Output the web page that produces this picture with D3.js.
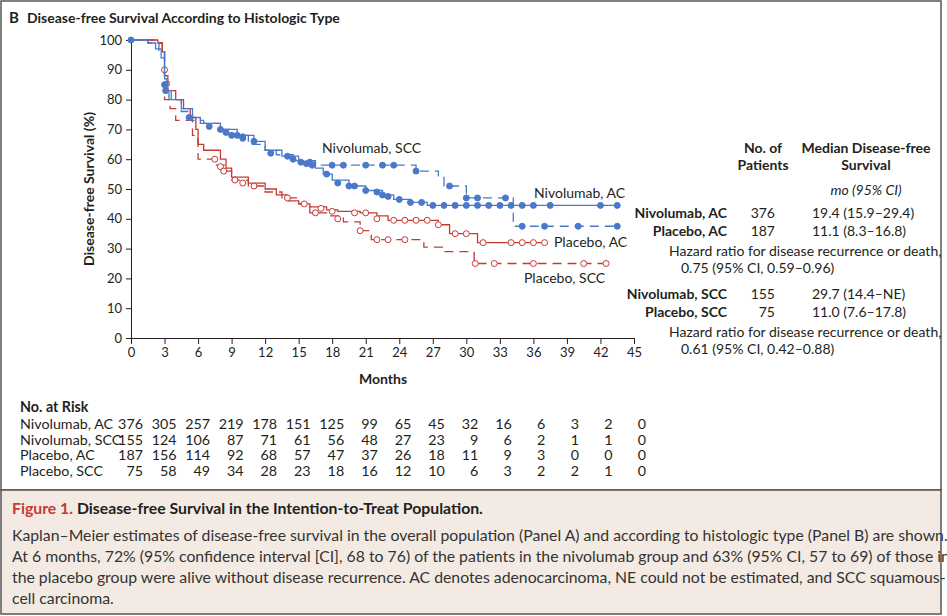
<!DOCTYPE html>
<html><head><meta charset="utf-8">
<script src="https://cdn.jsdelivr.net/npm/d3@7"></script>
<style>
body{margin:0;background:#fff;font-family:Lato,"Open Sans",sans-serif;}
text{font-family:Lato,"Open Sans",sans-serif;fill:#231f20;}
</style></head><body>
<script>
// step curves: [month, survival %]
var nivoAC = [[0,100],[1.5,99],[2.2,97],[2.7,94],[3,87],[3.2,83],[3.6,80],[4.5,77],[5.5,74],[6.2,72],[8,70],[9.5,68],[11,66],[12,63],[13.5,61],[15,59],[16.5,57],[17.2,55],[18,53],[19.5,51],[21,49.5],[22.5,48],[23.5,46.5],[25,45.5],[26.5,44.5],[43.5,44.5]];
var nivoSCC = [[0,100],[1.5,99],[2.5,96],[3,86],[3.4,80],[4.5,76],[5.5,73],[6.5,72],[8,70],[9,68],[10.5,65],[12,63],[13,61.5],[14.5,59.5],[16.5,58],[25,58],[25.5,56],[27.5,54],[28,51],[29.5,51],[30,47],[34.2,47],[34.2,37.5],[43.5,37.5]];
var plAC = [[0,100],[2.4,99],[2.8,96],[3,88],[3.3,83],[4,80],[4.7,77],[5.3,74],[5.8,70],[6,65],[6.5,63],[8,60],[8.5,57],[9,54],[10.5,52],[12,50],[13,48],[14,46],[15,45],[16,44],[17.5,43],[18.5,42.5],[20.5,42],[22,41],[23,39.5],[27.5,39.5],[27.5,38],[28.5,35],[31,35],[31,32],[37,32]];
var plSCC = [[0,100],[2.4,99],[2.8,96],[3,80],[3.5,77],[4,73],[5.5,68],[6,60],[7.5,58],[8.5,56],[9,53],[10.5,51],[12,49],[13.5,47],[15,45],[16,42],[17.5,41],[19,39],[20.5,36],[21.5,33],[26,33],[26.2,30.5],[28,30.5],[28,29],[30.7,29],[30.7,25],[42.5,25]];
// censor marks: [month, survival %]
var nivoACc = [[0,100],[3,85],[3.1,83],[8.5,69],[9.5,68],[10,67.5],[11,66],[12.5,62],[14.5,60],[15.2,59],[15.7,58.5],[16.2,58],[17.5,55],[18.5,52],[19.5,51],[20,51],[21,49.5],[22,49],[22.5,48],[23,47.5],[24,46.5],[25,45.5],[26,45.5],[27,44.5],[28,44.5],[29,44.5],[30,44.5],[31,44.5],[32,44.5],[33,44.5],[34,44.5],[35,44.5],[36,44.5],[37.5,44.5],[42,44.5],[43.5,44.5]];
var nivoSCCc = [[5.2,74],[7,71],[8,70],[9,68],[10,67],[14,61],[16,59],[18,58],[19,58],[21,58],[22.5,58],[23.5,58],[25.5,56],[28.5,51],[30,47],[31,47],[33.5,47],[35,37.5],[37,37.5],[40,37.5],[43.5,37.5]];
var plACc = [[3,90],[7.5,60],[8,57.5],[8.3,56],[9.3,53],[10,52],[11,51],[14,47],[15.5,45],[17,43.5],[18,42.5],[20,42],[21,42],[22,40],[23.5,39.5],[24.5,39.5],[25.5,39.5],[26.5,39.5],[27.5,38],[29,35],[30,35],[31.5,32],[34,32],[35,32],[36,32],[37,32]];
var plSCCc = [[16.5,42],[18.5,40],[20.5,36],[22,33],[23,33],[24.5,33],[30.8,25],[32.5,25],[36,25],[40.5,25],[42.5,25]];

var xTicks = d3.range(0,46,3);
var yTicks = d3.range(0,101,10);
var riskNames = ["Nivolumab, AC","Nivolumab, SCC","Placebo, AC","Placebo, SCC"];
var riskNivoAC = [376,305,257,219,178,151,125,99,65,45,32,16,6,3,2,0];
var riskNivoSCC = [155,124,106,87,71,61,56,48,27,23,9,6,2,1,1,0];
var riskPlAC = [187,156,114,92,68,57,47,37,26,18,11,9,3,0,0,0];
var riskPlSCC = [75,58,49,34,28,23,18,16,12,10,6,3,2,2,1,0];

var blue = "#4a79c9", red = "#c53a35";

var svg = d3.select("body").append("svg").attr("width",947).attr("height",616);

// frame
svg.append("rect").attr("x",1).attr("y",1).attr("width",940).attr("height",489)
    .attr("fill","#fff").attr("stroke","#555").attr("stroke-width",1.5);
svg.append("rect").attr("x",1).attr("y",490).attr("width",940).attr("height",124)
    .attr("fill","#f3ebe3").attr("stroke","#555").attr("stroke-width",1.5);

svg.append("text").attr("x",9).attr("y",23).style("font-size","15px").style("font-weight","bold").text("B");
svg.append("text").attr("x",27).attr("y",23).style("font-size","14px").style("font-weight","bold")
    .text("Disease-free Survival According to Histologic Type");

var x = d3.scaleLinear().domain([0,45]).range([131,634]);
var y = d3.scaleLinear().domain([0,100]).range([338,40]);

var xAxis = svg.append("g").attr("transform","translate(0,338)")
    .call(d3.axisBottom(x).tickValues(xTicks).tickSize(6).tickPadding(4));
var yAxis = svg.append("g").attr("transform","translate(131,0)")
    .call(d3.axisLeft(y).tickValues(yTicks).tickSize(5).tickPadding(4));
[xAxis,yAxis].forEach(function(a){
    a.selectAll("text").style("font-size","13px").style("fill","#231f20");
    a.selectAll("path,line").attr("stroke","#231f20");
});
svg.append("text").attr("x",383).attr("y",384).attr("text-anchor","middle")
    .style("font-size","14px").style("font-weight","bold").text("Months");
svg.append("text").attr("transform","translate(94,189) rotate(-90)").attr("text-anchor","middle")
    .style("font-size","14px").style("font-weight","bold").text("Disease-free Survival (%)");

var step = d3.line().x(function(d){return x(d[0]);}).y(function(d){return y(d[1]);}).curve(d3.curveStepAfter);

function curve(data, cens, color, dashed, filled) {
    svg.append("path").datum(data).attr("d",step).attr("fill","none")
        .attr("stroke",color).attr("stroke-width",1.3)
        .attr("stroke-dasharray", dashed ? "9,6" : null);
    svg.append("g").selectAll("circle").data(cens).enter().append("circle")
        .attr("cx",function(d){return x(d[0]);})
        .attr("cy",function(d){return y(d[1]);})
        .attr("r",3)
        .attr("fill", filled ? color : "#fff")
        .attr("stroke",color).attr("stroke-width",1);
}
curve(plSCC, plSCCc, red, true, false);
curve(plAC, plACc, red, false, false);
curve(nivoSCC, nivoSCCc, blue, true, true);
curve(nivoAC, nivoACc, blue, false, true);

var lbl = [["Nivolumab, SCC",322,153],["Nivolumab, AC",534,198],["Placebo, AC",554,247],["Placebo, SCC",524,283]];
svg.selectAll(".lbl").data(lbl).enter().append("text").attr("class","lbl")
    .attr("x",function(d){return d[1];}).attr("y",function(d){return d[2];})
    .style("font-size","14px").text(function(d){return d[0];});

// right table
var t = svg.append("g").style("font-size","14px");
t.append("text").attr("x",763).attr("y",153).attr("text-anchor","middle").style("font-weight","bold").text("No. of");
t.append("text").attr("x",763).attr("y",170).attr("text-anchor","middle").style("font-weight","bold").text("Patients");
t.append("text").attr("x",866).attr("y",153).attr("text-anchor","middle").style("font-weight","bold").text("Median Disease-free");
t.append("text").attr("x",866).attr("y",170).attr("text-anchor","middle").style("font-weight","bold").text("Survival");
t.append("text").attr("x",866).attr("y",195).attr("text-anchor","middle").style("font-style","italic").text("mo (95% CI)");
var rows = [["Nivolumab, AC","376","19.4 (15.9–29.4)",218],["Placebo, AC","187","11.1 (8.3–16.8)",236],
            ["Nivolumab, SCC","155","29.7 (14.4–NE)",299],["Placebo, SCC","75","11.0 (7.6–17.8)",317]];
rows.forEach(function(r){
    t.append("text").attr("x",727).attr("y",r[3]).attr("text-anchor","end").style("font-weight","bold").text(r[0]);
    t.append("text").attr("x",775).attr("y",r[3]).attr("text-anchor","end").text(r[1]);
    t.append("text").attr("x",812).attr("y",r[3]).text(r[2]);
});
[["Hazard ratio for disease recurrence or death,",669,256],["0.75 (95% CI, 0.59–0.96)",681,273],
 ["Hazard ratio for disease recurrence or death,",669,337],["0.61 (95% CI, 0.42–0.88)",681,354]].forEach(function(h){
    t.append("text").attr("x",h[1]).attr("y",h[2]).text(h[0]);
});

// risk table
var rt = svg.append("g").style("font-size","14.3px");
rt.append("text").attr("x",20).attr("y",412).style("font-weight","bold").text("No. at Risk");
[riskNivoAC,riskNivoSCC,riskPlAC,riskPlSCC].forEach(function(vals,i){
    var yy = 429 + i*15.5;
    rt.append("text").attr("x",20).attr("y",yy).text(riskNames[i]);
    rt.selectAll(null).data(vals).enter().append("text")
        .attr("x",function(d,j){return x(xTicks[j])+12;}).attr("y",yy)
        .attr("text-anchor","end").text(function(d){return d;});
});

// caption
var c = svg.append("g").style("font-size","15.8px");
var ct = c.append("text").attr("x",12).attr("y",514).style("font-weight","bold");
ct.append("tspan").style("fill",red).text("Figure 1. ");
ct.append("tspan").text("Disease-free Survival in the Intention-to-Treat Population.");
["Kaplan–Meier estimates of disease-free survival in the overall population (Panel A) and according to histologic type (Panel B) are shown.",
 "At 6 months, 72% (95% confidence interval [CI], 68 to 76) of the patients in the nivolumab group and 63% (95% CI, 57 to 69) of those in",
 "the placebo group were alive without disease recurrence. AC denotes adenocarcinoma, NE could not be estimated, and SCC squamous-",
 "cell carcinoma."].forEach(function(s,i){
    c.append("text").attr("x",12).attr("y",541+i*21).style("fill","#333").text(s);
});
</script>
</body></html>
